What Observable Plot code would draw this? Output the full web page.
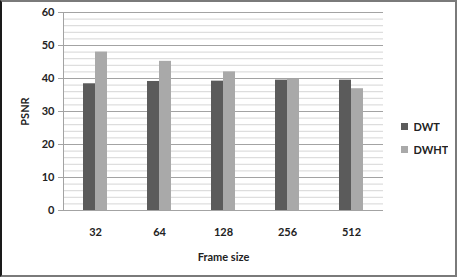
<!DOCTYPE html>
<html><head>
<meta charset="utf-8">
<script src="https://cdn.jsdelivr.net/npm/d3@7"></script>
<script src="https://cdn.jsdelivr.net/npm/@observablehq/plot@0.6"></script>
<style>
body{margin:0;background:#fff}
#wrap{position:relative;width:457px;height:277px;box-sizing:border-box;border:2px solid #7a7a7a;border-left-color:#1a1a1a;background:#fff;overflow:hidden}
#chart{position:absolute;left:0;top:0}
#legend{position:absolute;left:399px;top:118px}
#legend, #legend *{font:bold 11px Lato, sans-serif;color:#222}
#legend > div > div{margin-bottom:9px}
</style>
</head><body>
<div id="wrap"><div id="chart"></div><div id="legend"></div></div>
<script>
const frameSizes = ["32", "64", "128", "256", "512"];
const series = ["DWT", "DWHT"];
const dwt = [38.4, 39.1, 39.2, 39.5, 39.5];
const dwht = [48.0, 45.2, 42.0, 39.7, 36.9];
const yTicks = [0, 10, 20, 30, 40, 50, 60];
const yMinor = d3.range(0, 61, 2);
const colors = ["#5b5b5b", "#a9a9a9"];

const rows = [];
frameSizes.forEach((f, i) => {
  rows.push({frame: f, series: "DWT", value: dwt[i]});
  rows.push({frame: f, series: "DWHT", value: dwht[i]});
});

const chart = Plot.plot({
  width: 381,
  height: 273,
  marginLeft: 60,
  marginRight: 0,
  marginTop: 10,
  marginBottom: 65,
  style: {fontFamily: "Lato, sans-serif", fontSize: "11px", fontWeight: "bold", color: "#222", background: "transparent"},
  fx: {domain: frameSizes, padding: 0, label: "Frame size"},
  x: {domain: series, paddingInner: 0, paddingOuter: 1.57, axis: null},
  y: {domain: [0, 60], label: "PSNR"},
  color: {domain: series, range: colors},
  marks: [
    Plot.ruleY(yMinor, {stroke: "#d6d6d6", strokeWidth: 1}),
    Plot.ruleY(yTicks, {stroke: "#a3a3a3", strokeWidth: 1}),
    Plot.frame({anchor: "left", facetAnchor: "left", stroke: "#a3a3a3"}),
    Plot.barY(rows, {fx: "frame", x: "series", y: "value", fill: "series"}),
    Plot.axisY({ticks: yTicks, tickSize: 5, tickPadding: 4, stroke: "#a3a3a3", label: "PSNR", labelAnchor: "center", labelArrow: "none", labelOffset: 42}),
    Plot.axisFx({anchor: "bottom", tickSize: 0, tickPadding: 18, label: "Frame size", labelAnchor: "center", labelArrow: "none", labelOffset: 50})
  ]
});
document.getElementById("chart").appendChild(chart);
document.getElementById("legend").appendChild(chart.legend("color", {columns: 1, swatchSize: 7}));
</script>
</body></html>
